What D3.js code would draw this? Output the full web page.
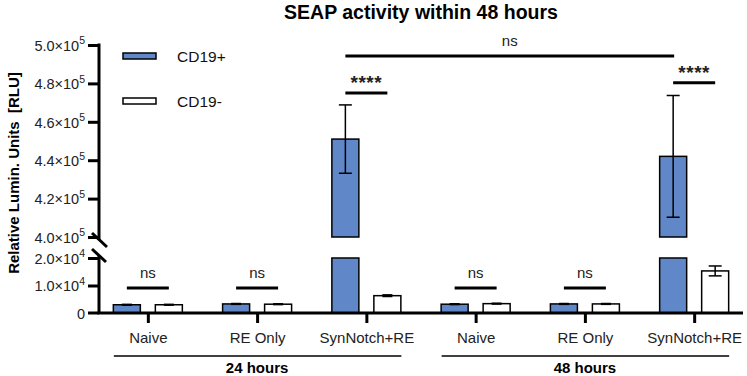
<!DOCTYPE html>
<html><head><meta charset="utf-8">
<script src="https://cdn.jsdelivr.net/npm/d3@7"></script>
<style>body{margin:0;background:#fff}svg{display:block}</style>
</head><body>
<script>
const categories = ["Naive","RE Only","SynNotch+RE","Naive","RE Only","SynNotch+RE"];
const groups = ["24 hours","48 hours"];
const seriesNames = ["CD19+","CD19-"];
const cd19pos = [3000, 3300, 451000, 3200, 3300, 442000];
const cd19posErr = [150, 150, 17800, 150, 150, 31700];
const cd19neg = [3000, 3200, 6300, 3400, 3300, 15300];
const cd19negErr = [150, 150, 300, 150, 150, 1800];
const lowTicks = [0, 10000, 20000];
const lowTickLabels = [["0",""],["1.0×10","4"],["2.0×10","4"]];
const highTicks = [400000, 420000, 440000, 460000, 480000, 500000];
const highTickLabels = [["4.0×10","5"],["4.2×10","5"],["4.4×10","5"],["4.6×10","5"],["4.8×10","5"],["5.0×10","5"]];

const W = 747, H = 376;
const svg = d3.select("body").append("svg").attr("width", W).attr("height", H);
const BLUE = "#6088c9";
const FONT = "Liberation Sans, Arial, sans-serif";
const axX = 99, x0 = 99, x1 = 743;

const x = d3.scalePoint().domain(d3.range(categories.length)).range([x0, x1]).padding(0.447);
const yLow = d3.scaleLinear().domain([0, 20000]).range([313, 258]);
const yHigh = d3.scaleLinear().domain([400000, 500000]).range([237, 45]);
const off = 21, bw = 27;

// title
svg.append("text").attr("x", 421).attr("y", 19).attr("text-anchor", "middle")
  .attr("font-family", FONT).attr("font-weight", "bold")
  .attr("font-size", 19.5).text("SEAP activity within 48 hours");

// y label
svg.append("text").attr("transform", "translate(19,173) rotate(-90)").attr("text-anchor", "middle")
  .attr("font-family", FONT).attr("font-weight", "bold")
  .attr("font-size", 15).attr("xml:space","preserve").text("Relative Lumin. Units  [RLU]");

// bars
const bars = [];
categories.forEach((c, i) => {
  bars.push({i, s: 0, v: cd19pos[i], e: cd19posErr[i], cx: x(i) - off});
  bars.push({i, s: 1, v: cd19neg[i], e: cd19negErr[i], cx: x(i) + off});
});
const g = svg.append("g");
bars.forEach(b => {
  const fill = b.s === 0 ? BLUE : "#fff";
  const lowTop = yLow(Math.min(b.v, 20000));
  g.append("rect").attr("x", b.cx - bw/2).attr("y", lowTop).attr("width", bw)
    .attr("height", yLow(0) - lowTop).attr("fill", fill).attr("stroke", "#000").attr("stroke-width", 1.5);
  let ys = yLow;
  if (b.v > 20000) {
    ys = yHigh;
    g.append("rect").attr("x", b.cx - bw/2).attr("y", yHigh(b.v)).attr("width", bw)
      .attr("height", yHigh(400000) - yHigh(b.v)).attr("fill", fill).attr("stroke", "#000").attr("stroke-width", 1.5);
  }
  const top = ys(b.v + b.e), bot = ys(b.v - b.e);
  const cw = b.e > 1000 ? 13 : 10;
  g.append("line").attr("x1", b.cx).attr("x2", b.cx).attr("y1", top).attr("y2", bot).attr("stroke", "#000").attr("stroke-width", 1.5);
  g.append("line").attr("x1", b.cx - cw/2).attr("x2", b.cx + cw/2).attr("y1", top).attr("y2", top).attr("stroke", "#000").attr("stroke-width", 1.5);
  g.append("line").attr("x1", b.cx - cw/2).attr("x2", b.cx + cw/2).attr("y1", bot).attr("y2", bot).attr("stroke", "#000").attr("stroke-width", 1.5);
});

// y axes
function styleAxis(sel, labels) {
  sel.select(".domain").remove();
  sel.selectAll(".tick line").attr("stroke", "#000").attr("stroke-width", 3);
  sel.selectAll(".tick text").each(function(d, k) {
    const t = d3.select(this).text("").attr("font-family", FONT)
      .attr("font-size", 14.5).attr("fill", "#222").attr("x", -14).attr("dy", "0.36em");
    t.append("tspan").text(labels[k][0]);
    if (labels[k][1]) t.append("tspan").attr("font-size", 10.5).attr("dy", "-0.6em").text(labels[k][1]);
  });
}
const ah = svg.append("g").attr("transform", `translate(${axX},0)`)
  .call(d3.axisLeft(yHigh).tickValues(highTicks).tickSize(11).tickPadding(4));
styleAxis(ah, highTickLabels);
const al = svg.append("g").attr("transform", `translate(${axX},0)`)
  .call(d3.axisLeft(yLow).tickValues(lowTicks).tickSize(11).tickPadding(4));
styleAxis(al, lowTickLabels);
al.selectAll(".tick").filter(d => d === 0).select("line").remove();
svg.append("line").attr("x1", axX - 11).attr("x2", axX).attr("y1", yLow(0)).attr("y2", yLow(0)).attr("stroke","#000").attr("stroke-width",3);
svg.append("line").attr("x1", axX).attr("x2", axX).attr("y1", yHigh(500000) - 1.5).attr("y2", 240).attr("stroke", "#000").attr("stroke-width", 3);
svg.append("line").attr("x1", axX).attr("x2", axX).attr("y1", 256).attr("y2", yLow(0)).attr("stroke", "#000").attr("stroke-width", 3);
svg.append("line").attr("x1", axX - 7).attr("x2", axX + 8).attr("y1", 233).attr("y2", 247).attr("stroke", "#000").attr("stroke-width", 3);
svg.append("line").attr("x1", axX - 7).attr("x2", axX + 7).attr("y1", 249).attr("y2", 262).attr("stroke", "#000").attr("stroke-width", 3);

// x axis
const ax = svg.append("g").attr("transform", `translate(0,${yLow(0)})`)
  .call(d3.axisBottom(x).tickSize(10).tickFormat(i => categories[i]).tickPadding(9));
ax.select(".domain").attr("stroke", "#000").attr("stroke-width", 3).attr("d", `M${x0 - 1.5},0H${x1}`);
ax.selectAll(".tick line").attr("stroke", "#000").attr("stroke-width", 3);
ax.selectAll(".tick text").attr("font-family", FONT).attr("font-size", 15).attr("fill", "#222");

// group lines
groups.forEach((gname, k) => {
  const a = x(k*3) - 34, b = x(k*3 + 2) + 35;
  svg.append("line").attr("x1", a).attr("x2", b).attr("y1", 356).attr("y2", 356).attr("stroke", "#000").attr("stroke-width", 1.5);
  svg.append("text").attr("x", x(k*3 + 1)).attr("y", 373).attr("text-anchor", "middle")
    .attr("font-family", FONT).attr("font-weight", "bold").attr("font-size", 15).text(gname);
});

// significance
function sig(xa, xb, y, label, stars) {
  svg.append("line").attr("x1", xa).attr("x2", xb).attr("y1", y).attr("y2", y).attr("stroke", "#000").attr("stroke-width", 3);
  const t = svg.append("text").attr("x", (xa + xb)/2).attr("y", stars ? y - 4 : y - 10).attr("text-anchor", "middle")
    .attr("font-family", FONT).attr("font-weight", stars ? "bold" : "normal")
    .attr("font-size", stars ? 19 : 15).attr("fill", "#222").text(label);
  if (stars) t.attr("letter-spacing", 0.5);
}
[0, 1, 3, 4].forEach(i => sig(x(i) - off, x(i) + off, 288, "ns", false));
sig(x(2) - off, x(2) + off, yHigh(475000), "****", true);
sig(x(5) - off, x(5) + off, yHigh(480300), "****", true);
sig(x(2) - off, x(5) - off + 1, 56, "ns", false);

// legend
seriesNames.forEach((n, k) => {
  const ly = 56 + k*45;
  svg.append("rect").attr("x", 123).attr("y", ly - 3).attr("width", 33).attr("height", 6)
    .attr("fill", k === 0 ? BLUE : "#fff").attr("stroke", "#000").attr("stroke-width", 1.5);
  svg.append("text").attr("x", 177).attr("y", ly).attr("dy", "0.36em")
    .attr("font-family", FONT).attr("font-size", 15.5).attr("fill", "#111").text(n);
});
</script>
</body></html>
